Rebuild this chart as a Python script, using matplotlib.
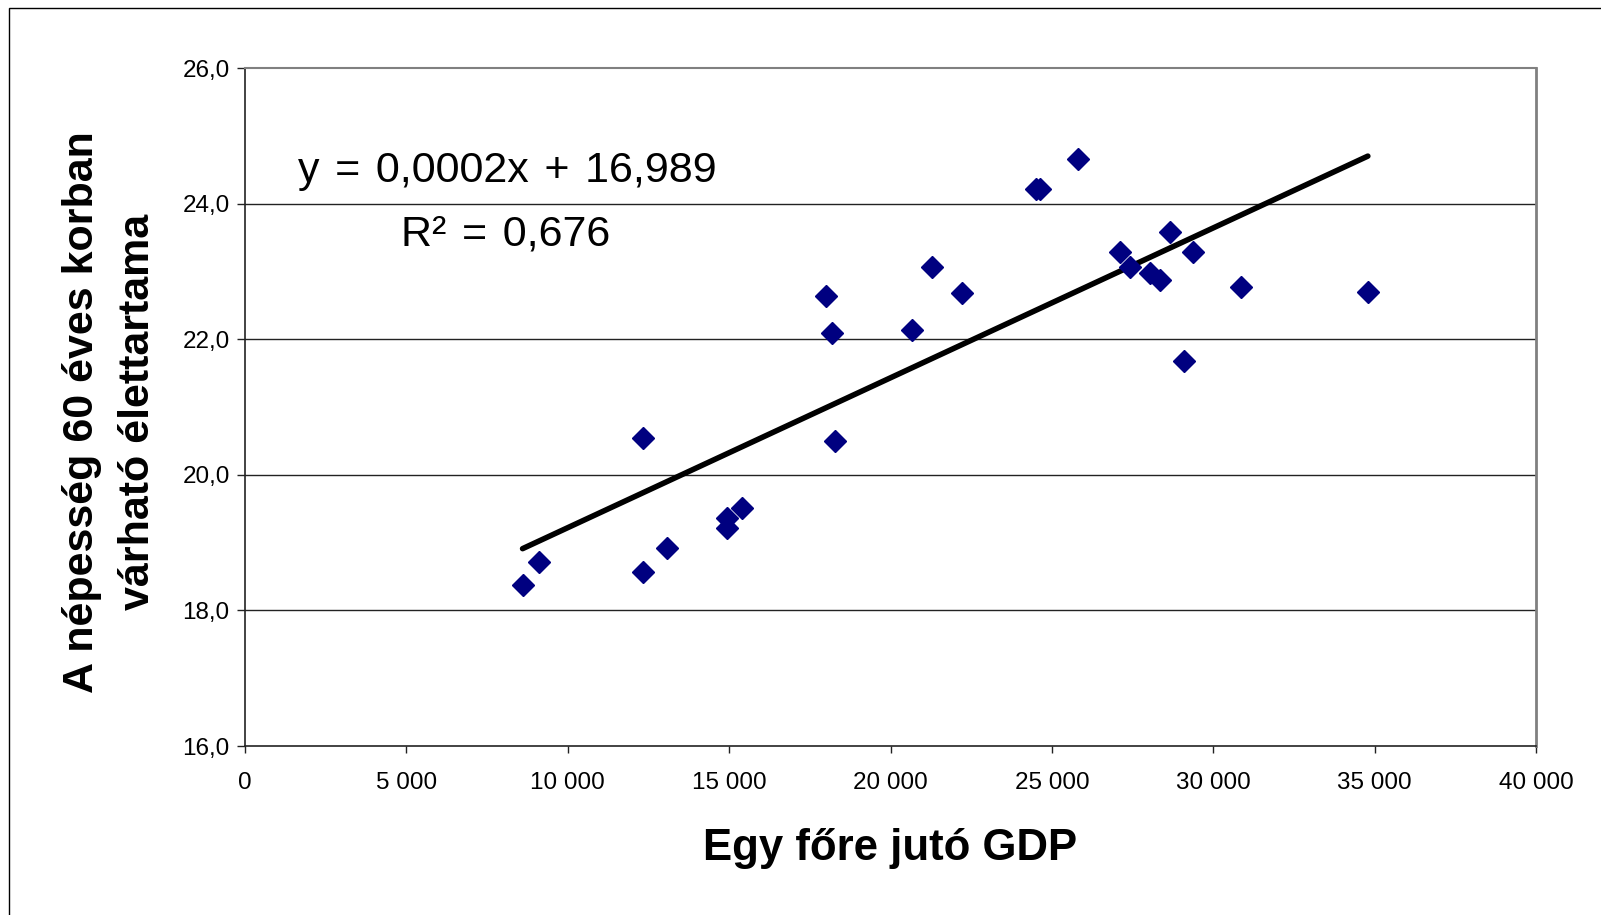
import numpy as np
import matplotlib
matplotlib.use('Agg')
import matplotlib.pyplot as plt
from matplotlib.ticker import FuncFormatter
from matplotlib.patches import Rectangle

plt.rcParams['font.family'] = ['Liberation Sans', 'DejaVu Sans']

# egy fore juto GDP
gdp = [8600, 9120, 12340, 12340, 13080, 14920, 14920, 15390,
       17990, 18180, 18280, 20660, 21280, 22230, 24500, 24620,
       25810, 27110, 27420, 28040, 28350, 28660, 29380, 29090,
       30850, 34790]
# varhato elettartam 60 eves korban
elet = [18.37, 18.72, 20.54, 18.57, 18.92, 19.21, 19.36, 19.51,
        22.63, 22.09, 20.50, 22.14, 23.07, 22.68, 24.21, 24.21,
        24.66, 23.29, 23.07, 22.97, 22.87, 23.58, 23.28, 21.68,
        22.77, 22.69]

xticks = [0, 5000, 10000, 15000, 20000, 25000, 30000, 35000, 40000]
yticks = [16, 18, 20, 22, 24, 26]

hs = ' \u200a'  # kicsit szelesebb szokoz
eq_text = 'y' + hs + '=' + hs + '0,0002x' + hs + '+' + hs + '16,989'
r2_text = 'R²' + hs + '=' + hs + '0,676'
xlabel = 'Egy főre jutó GDP'
ylabel = 'A népesség 60 éves korban\nvárható élettartama'

fig = plt.figure(figsize=(16.01, 9.15), dpi=100)
ax = fig.add_axes([245/1601, 1-746/915, 1291/1601, 678/915])

ax.set_xlim(0, 40000)
ax.set_ylim(16, 26)
ax.set_xticks(xticks)
ax.set_yticks(yticks)
ax.xaxis.set_major_formatter(FuncFormatter(lambda v, p: '{:,.0f}'.format(v).replace(',', ' ')))
ax.yaxis.set_major_formatter(FuncFormatter(lambda v, p: '{:.1f}'.format(v).replace('.', ',')))

for v in yticks[1:-1]:
    ax.axhline(v, color='#222222', lw=1, zorder=1)

# trendvonal
a, b = np.polyfit(gdp, elet, 1)
xs = np.array([min(gdp), max(gdp)])
ax.plot(xs, a * xs + b, color='black', lw=4, solid_capstyle='round', zorder=3)

ax.plot(gdp, elet, linestyle='none', marker='D', markersize=11.5,
        color='#000080', markeredgecolor='#000080', zorder=4)

ax.spines['left'].set_color('#222222')
ax.spines['bottom'].set_color('#222222')
ax.spines['left'].set_linewidth(1.2)
ax.spines['bottom'].set_linewidth(1.2)
ax.spines['top'].set_color('#808080')
ax.spines['right'].set_color('#808080')
ax.spines['top'].set_linewidth(1.5)
ax.spines['right'].set_linewidth(2)

ax.tick_params(axis='x', direction='out', length=5, width=1, pad=14, labelsize=17.5, colors='#222222', labelcolor='black')
ax.tick_params(axis='y', direction='out', length=6, width=1, pad=5, labelsize=17.5, colors='#222222', labelcolor='black')

fig.text(507/1601, 1-182/915, eq_text, fontsize=31, ha='center', va='baseline')
fig.text(506/1601, 1-245/915, r2_text, fontsize=31, ha='center', va='baseline')

fig.text(890/1601, 1-860/915, xlabel, fontsize=31.5, fontweight='bold', ha='center', va='baseline')
fig.text(110/1601, 1-412/915, ylabel, fontsize=31, fontweight='bold', rotation=90,
         ha='center', va='center', multialignment='center', linespacing=1.5)

# kulso keret
fig.add_artist(Rectangle((9/1601, -0.05), 1.2, 1 - 8/915 + 0.05, transform=fig.transFigure,
                         fill=False, lw=1, ec='black'))

fig.savefig('out.png', dpi=100)
